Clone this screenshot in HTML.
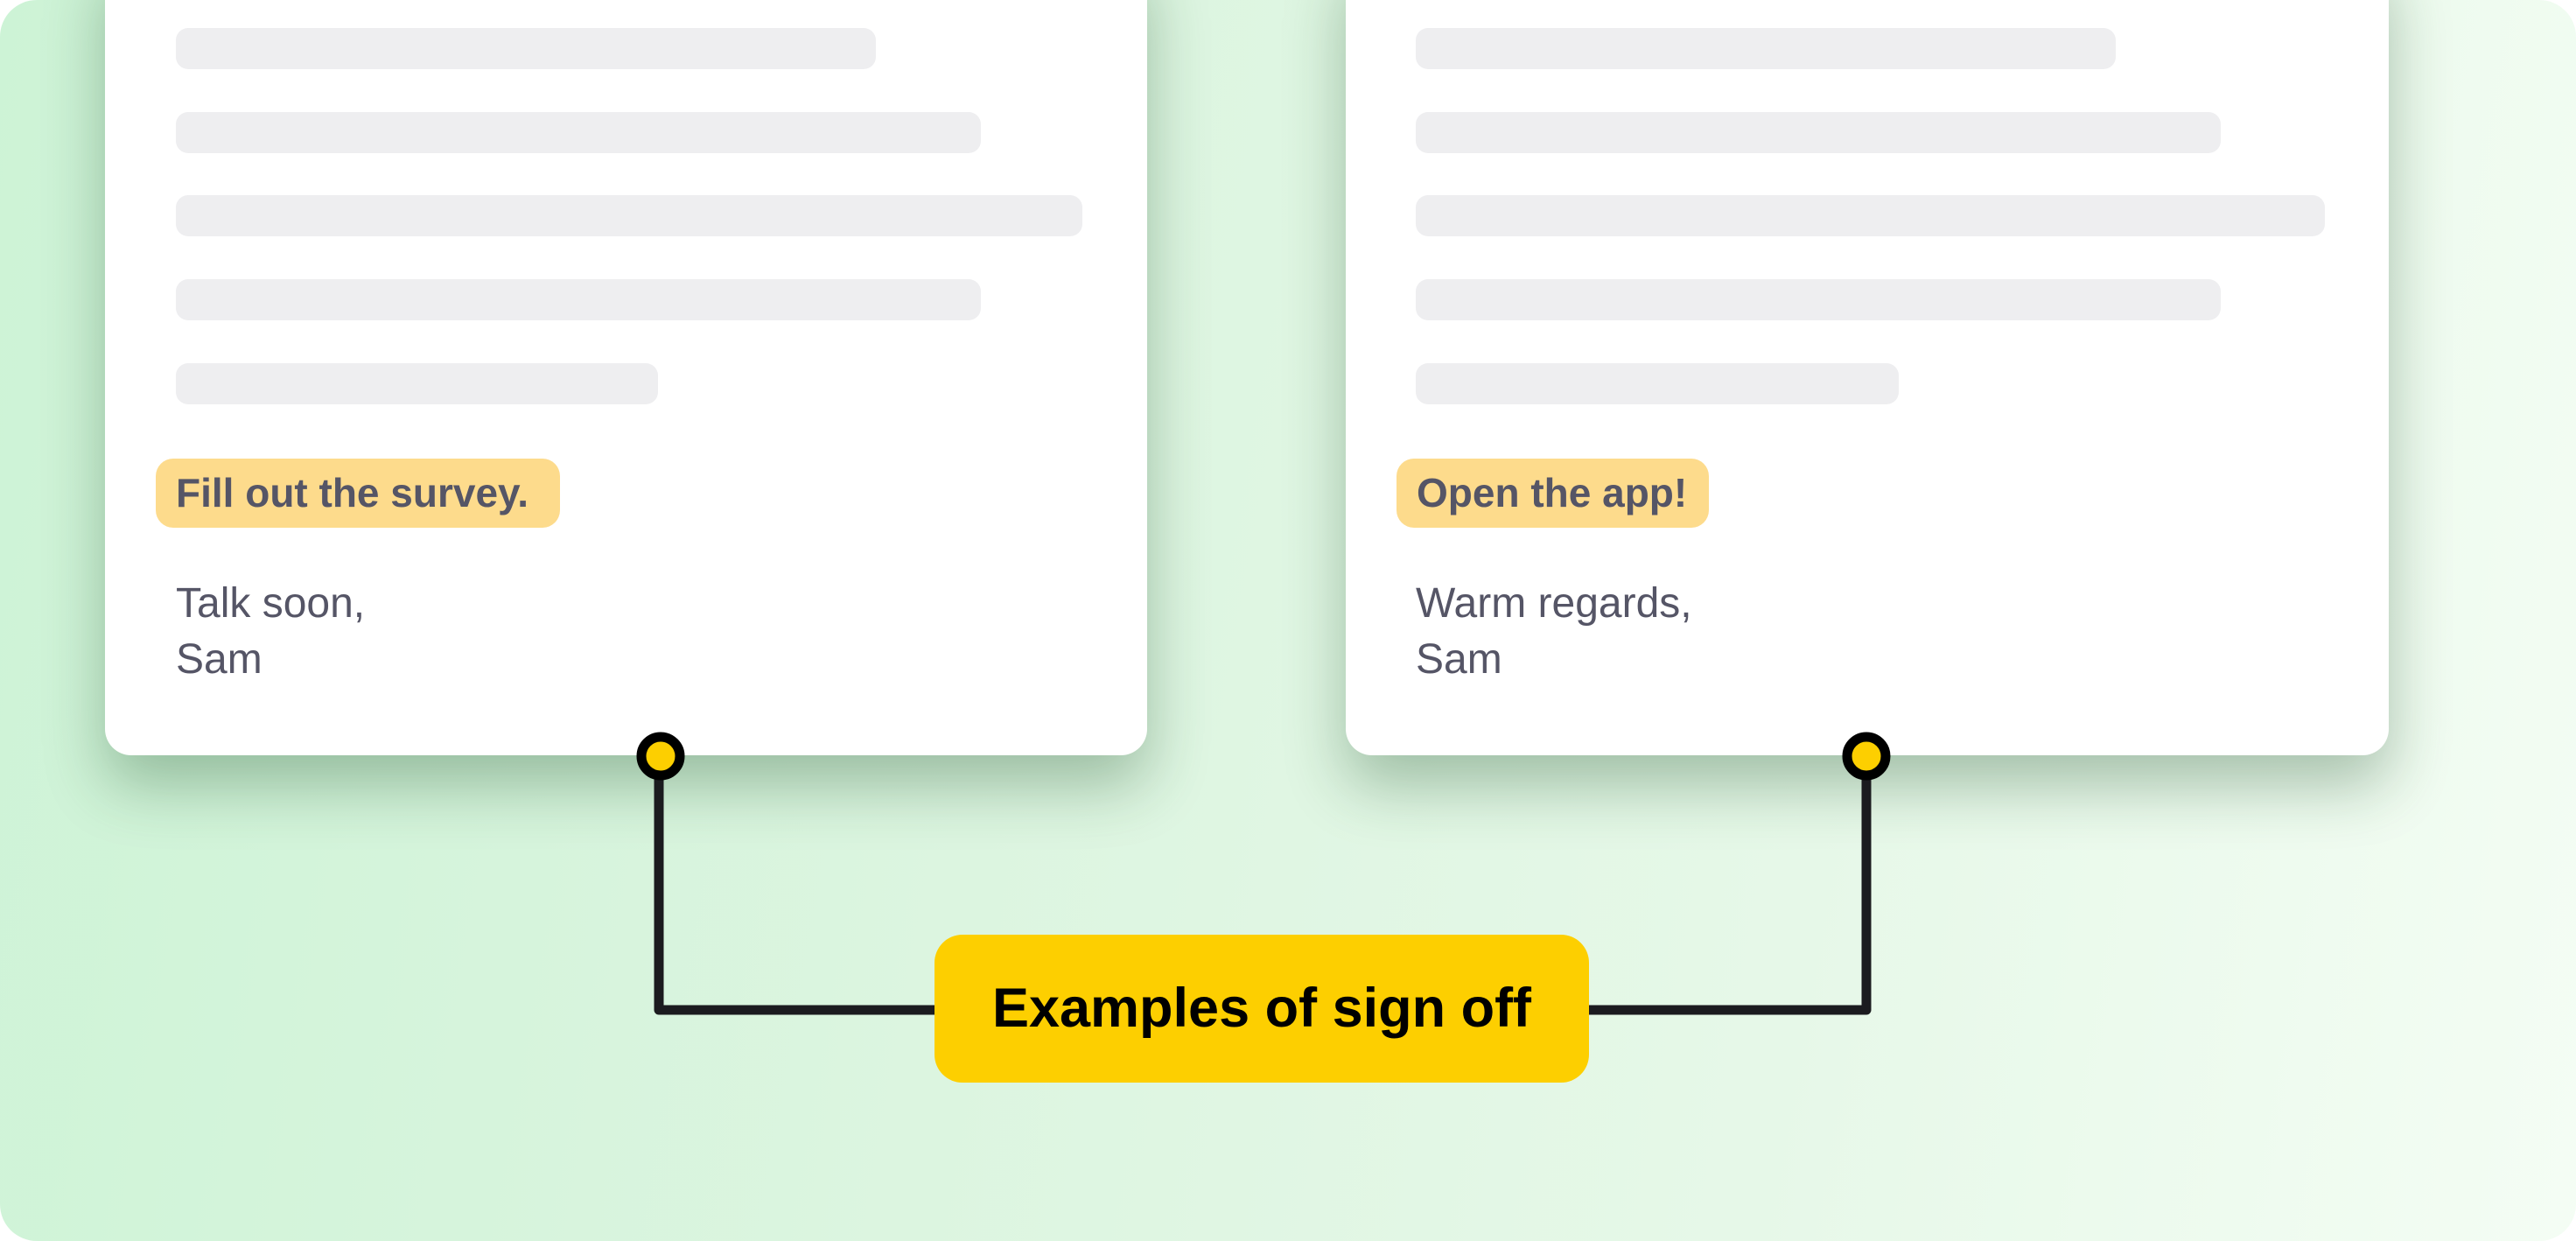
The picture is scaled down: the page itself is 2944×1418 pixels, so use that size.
<!DOCTYPE html>
<html><head><meta charset="utf-8"><style>
html,body{margin:0;padding:0;background:#fff;}
body{width:2944px;height:1418px;position:relative;overflow:hidden;font-family:"Liberation Sans",sans-serif;}
.bg{position:absolute;left:0;top:0;width:2944px;height:1418px;border-radius:42px;background:linear-gradient(100deg,#cdf3d6 0%,#dcf5e0 40%,#e6f8e8 70%,#f4fdf4 100%);}
.card{position:absolute;top:-60px;height:923px;background:#fff;border-radius:30px;box-shadow:0 34px 70px rgba(20,70,30,0.32);}
.bar{position:absolute;height:47px;border-radius:14px;background:#eeeef0;}
.hl{position:absolute;height:79px;border-radius:20px;background:#fddb8c;color:#555566;font-weight:bold;font-size:46px;line-height:79px;padding-left:23px;box-sizing:border-box;white-space:nowrap;}
.txt{position:absolute;color:#555566;font-size:48px;line-height:64px;}
.label{position:absolute;left:1068px;top:1068px;width:748px;height:169px;border-radius:32px;background:#fdcf00;color:#000;font-weight:bold;font-size:63px;line-height:169px;text-align:center;}
</style></head><body>
<div class="bg"></div>
<div class="card" style="left:120px;width:1191px;"></div>
<div class="card" style="left:1538px;width:1192px;"></div>
<div class="bar" style="left:201px;top:32px;width:800px"></div>
<div class="bar" style="left:201px;top:128px;width:920px"></div>
<div class="bar" style="left:201px;top:223px;width:1036px"></div>
<div class="bar" style="left:201px;top:319px;width:920px"></div>
<div class="bar" style="left:201px;top:415px;width:551px"></div>
<div class="bar" style="left:1618px;top:32px;width:800px"></div>
<div class="bar" style="left:1618px;top:128px;width:920px"></div>
<div class="bar" style="left:1618px;top:223px;width:1039px"></div>
<div class="bar" style="left:1618px;top:319px;width:920px"></div>
<div class="bar" style="left:1618px;top:415px;width:552px"></div>
<div class="hl" style="left:178px;top:524px;width:462px">Fill out the survey.</div>
<div class="hl" style="left:1596px;top:524px;width:357px">Open the app!</div>
<div class="txt" style="left:201px;top:658px">Talk soon,<br>Sam</div>
<div class="txt" style="left:1618px;top:658px">Warm regards,<br>Sam</div>
<svg width="2944" height="1418" style="position:absolute;left:0;top:0">
<path d="M753 864 V1154 H1070" fill="none" stroke="#1b1b1f" stroke-width="11" stroke-linejoin="round"/>
<path d="M2133 864 V1154 H1814" fill="none" stroke="#1b1b1f" stroke-width="11" stroke-linejoin="round"/>
<circle cx="755" cy="864" r="22" fill="#fdcf00" stroke="#000" stroke-width="11"/>
<circle cx="2133" cy="864" r="22" fill="#fdcf00" stroke="#000" stroke-width="11"/>
</svg>
<div class="label">Examples of sign off</div>
</body></html>
